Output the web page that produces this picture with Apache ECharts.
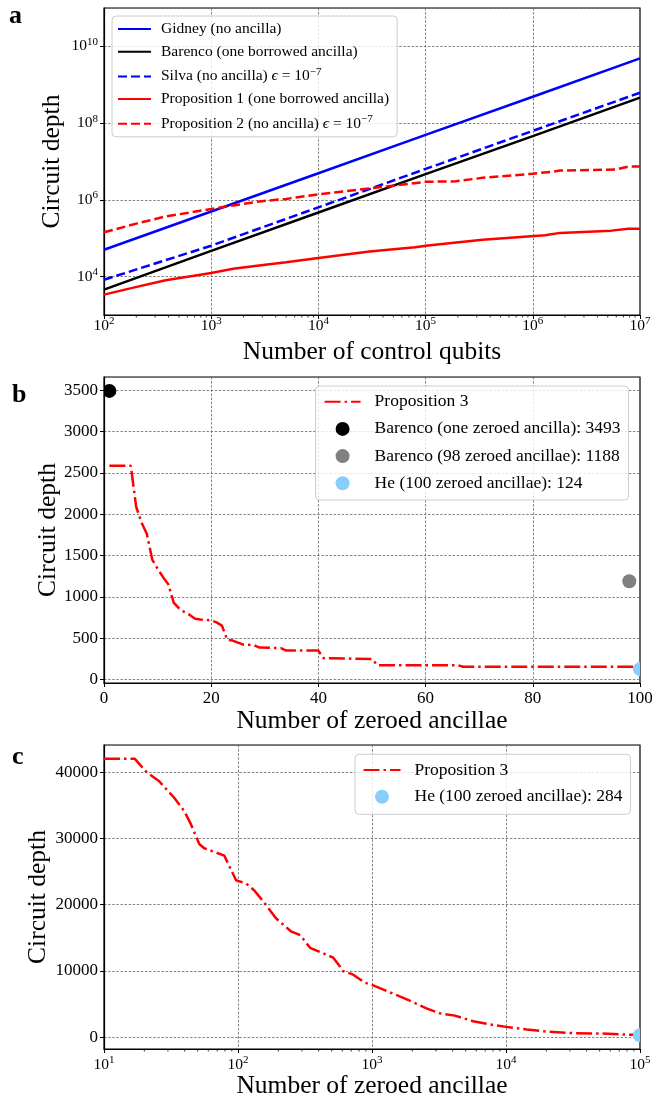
<!DOCTYPE html>
<html><head><meta charset="utf-8">
<script src="https://cdn.jsdelivr.net/npm/echarts@6/dist/echarts.min.js"></script>
<style>html,body{margin:0;padding:0;background:#fff}#c{width:663px;height:1100px}</style>
</head><body><div id="c"></div>
<script>
// ---------- Panel a data (log-log) ----------
const aDecades = [1e2, 1e3, 1e4, 1e5, 1e6, 1e7];
const gidneyY  = [5.0e4, 4.97e5, 4.95e6, 4.92e7, 4.88e8, 4.85e9];
const barencoY = [4.6e3, 4.7e4, 4.7e5, 4.7e6, 4.6e7, 4.6e8];
const silvaY   = [8.3e3, 6.4e4, 6.4e5, 6.4e6, 6.3e7, 6.2e8];
const prop1X = [1e2, 1.84e2, 3.76e2, 1e3, 1.6e3, 2.8e3, 5e3, 1e4, 3e4, 8e4, 1.05e5, 3.4e5, 1.3e6, 1.8e6, 5.4e6, 7.8e6, 1e7];
const prop1Y = [3.4e3, 5.1e3, 8.0e3, 1.25e4, 1.6e4, 1.94e4, 2.36e4, 3.07e4, 4.5e4, 5.8e4, 6.5e4, 9.2e4, 1.19e5, 1.38e5, 1.58e5, 1.78e5, 1.78e5];
const prop2X = [1e2, 2e2, 3.76e2, 1e3, 2.8e3, 5e3, 1e4, 3e4, 1e5, 1.9e5, 3.4e5, 1e6, 1.5e6, 1.8e6, 6e6, 7.8e6, 1e7];
const prop2Y = [1.43e5, 2.4e5, 3.7e5, 5.8e5, 9.1e5, 1.06e6, 1.4e6, 2.0e6, 2.95e6, 3.05e6, 3.75e6, 4.8e6, 5.4e6, 5.8e6, 6.2e6, 7.4e6, 7.4e6];
const aNames = ['Gidney (no ancilla)', 'Barenco (one borrowed ancilla)', 'Silva (no ancilla) eps', 'Proposition 1 (one borrowed ancilla)', 'Proposition 2 (no ancilla) eps'];

// ---------- Panel b data ----------
const bX = [1,5,6,7,8,9,10,11,12,13,14,15,16,17,18,19,20,21,22,23,24,25,26,28,29,33,34,40,41,50,51,66,67,100];
const bY = [2585,2585,2090,1900,1760,1450,1340,1240,1150,930,860,815,780,735,725,718,715,690,650,480,470,445,420,415,385,378,348,348,255,248,172,172,152,152];
const bPoints = [
  {name: 'Barenco (one zeroed ancilla): 3493', x: 1, y: 3493, color: '#000000'},
  {name: 'Barenco (98 zeroed ancillae): 1188', x: 98, y: 1188, color: '#808080'},
  {name: 'He (100 zeroed ancillae): 124', x: 100, y: 124, color: '#87cefa'}
];

// ---------- Panel c data ----------
const cX = [10, 17, 20.5, 25.8, 33.4, 39.7, 44.5, 51.4, 56, 79, 96.7, 115, 132, 162, 192, 248, 292, 345, 514, 573, 606, 719, 881, 1000, 1350, 1800, 2550, 3200, 4150, 5690, 7590, 10000, 14250, 19950, 31600, 50000, 89000, 100000];
const cY = [42000, 42000, 40110, 38620, 36130, 34130, 32140, 29150, 28510, 27400, 23670, 23170, 22170, 19930, 17940, 15970, 15370, 13480, 11990, 10720, 9970, 9460, 8220, 7880, 6770, 5740, 4340, 3590, 3240, 2390, 1900, 1540, 1140, 840, 600, 540, 340, 330];
const cPoint = {name: 'He (100 zeroed ancillae): 284', x: 1e5, y: 284, color: '#87cefa'};

// minor tick decades for log x axes
const aMinorDecades = [1e2, 1e3, 1e4, 1e5, 1e6];
const cMinorDecades = [1e1, 1e2, 1e3, 1e4];
const minorSubs = [2, 3, 4, 5, 6, 7, 8, 9];

const F = '"Liberation Serif", "Times New Roman", serif';
const GRIDC = '#666666';
const gridLine = {show: true, lineStyle: {color: GRIDC, width: 0.8, type: [2.5, 1.6]}};
const axLine = {show: true, onZero: false, lineStyle: {color: '#000', width: 1.2}};
const supRich = {
  b: {fontSize: 15.5, fontFamily: F, color: '#000', verticalAlign: 'bottom', lineHeight: 16},
  s: {fontSize: 11, fontFamily: F, color: '#000', verticalAlign: 'bottom', lineHeight: 11, padding: [0, 0, 7, 0]}
};
const supFmt = v => '{b|10}{s|' + Math.round(Math.log10(v)) + '}';
const plainFmt = v => String(v);
const nameStyle = {fontSize: 25.5, fontFamily: F, color: '#000'};
const plainLabel = {fontSize: 17, fontFamily: F, color: '#000', formatter: plainFmt};
const MARKER_R = 7;

function pairs(xs, ys) { return xs.map((x, i) => [x, ys[i]]); }
function minorData(decades, yRef) {
  const out = [];
  decades.forEach(d => minorSubs.forEach(k => out.push([k * d, yRef])));
  return out;
}
function minorTickSeries(xi, decades, yRef) {
  return {
    type: 'custom', xAxisIndex: xi, yAxisIndex: xi, silent: true, z: 3, clip: false,
    data: minorData(decades, yRef),
    renderItem: (params, api) => {
      const cs = params.coordSys;
      const x = api.coord([api.value(0), api.value(1)])[0];
      const yb = cs.y + cs.height;
      return {type: 'line', shape: {x1: x, y1: yb, x2: x, y2: yb + 2.5}, style: {stroke: '#000', lineWidth: 0.8}};
    }
  };
}
// point markers drawn as custom series so they are clipped by the plot frame like the reference
function pointSeries(p, gi) {
  return {
    name: p.name, type: 'custom', xAxisIndex: gi, yAxisIndex: gi, z: 3, clip: true, silent: true,
    itemStyle: {color: p.color},
    data: [[p.x, p.y]],
    renderItem: (params, api) => {
      const c = api.coord([api.value(0), api.value(1)]);
      return {type: 'circle', shape: {cx: c[0], cy: c[1], r: MARKER_R}, style: {fill: p.color}};
    }
  };
}

const chart = echarts.init(document.getElementById('c'), null, {renderer: 'canvas'});
const lineW = 2.5;
const dashA = [9, 4];
const dashDot = [16, 4, 2.5, 4];
const noSym = {opacity: 0, color: 'rgba(0,0,0,0)', borderWidth: 0};

const legendA = {
  'Gidney (no ancilla)': 'Gidney (no ancilla)',
  'Barenco (one borrowed ancilla)': 'Barenco (one borrowed ancilla)',
  'Silva (no ancilla) eps': '{n|Silva (no ancilla) }{i|ϵ}{n| = 10}{s|−7}',
  'Proposition 1 (one borrowed ancilla)': 'Proposition 1 (one borrowed ancilla)',
  'Proposition 2 (no ancilla) eps': '{n|Proposition 2 (no ancilla) }{i|ϵ}{n| = 10}{s|−7}'
};

const axisBase = {nameLocation: 'middle', nameTextStyle: nameStyle, nameMoveOverlap: false,
  axisLine: axLine, axisTick: {length: 4, lineStyle: {color: '#000'}}, splitLine: gridLine};

const option = {
  animation: false,
  backgroundColor: '#fff',
  textStyle: {fontFamily: F},
  grid: [
    {left: 104, top: 8, width: 536, height: 307, show: true, borderColor: '#000', borderWidth: 1.2},
    {left: 104, top: 377, width: 536, height: 306, show: true, borderColor: '#000', borderWidth: 1.2},
    {left: 104, top: 745, width: 536, height: 307, show: true, borderColor: '#000', borderWidth: 1.2}
  ],
  xAxis: [
    Object.assign({}, axisBase, {gridIndex: 0, type: 'log', logBase: 10, min: 1e2, max: 1e7,
     name: 'Number of control qubits', nameGap: 24,
     axisLabel: {formatter: supFmt, rich: supRich, margin: 3}}),
    Object.assign({}, axisBase, {gridIndex: 1, type: 'value', min: 0, max: 100, interval: 20,
     name: 'Number of zeroed ancillae', nameGap: 25,
     axisLabel: Object.assign({margin: 7}, plainLabel)}),
    Object.assign({}, axisBase, {gridIndex: 2, type: 'log', logBase: 10, min: 10, max: 1e5,
     name: 'Number of zeroed ancillae', nameGap: 24,
     axisLabel: {formatter: supFmt, rich: supRich, margin: 8}})
  ],
  yAxis: [
    Object.assign({}, axisBase, {gridIndex: 0, type: 'log', logBase: 100, min: 1e3, max: 1e11,
     name: 'Circuit depth', nameGap: 39,
     axisLabel: {formatter: supFmt, rich: supRich, margin: 6, showMinLabel: false, showMaxLabel: false}}),
    Object.assign({}, axisBase, {gridIndex: 1, type: 'value', min: -44, max: 3661, splitNumber: 7,
     name: 'Circuit depth', nameGap: 43,
     axisLabel: Object.assign({margin: 6, showMinLabel: false, showMaxLabel: false}, plainLabel)}),
    Object.assign({}, axisBase, {gridIndex: 2, type: 'value', min: -1800, max: 44090, splitNumber: 5,
     name: 'Circuit depth', nameGap: 53,
     axisLabel: Object.assign({margin: 6, showMinLabel: false, showMaxLabel: false}, plainLabel)})
  ],
  legend: [
    {data: aNames.map(n => ({name: n, itemStyle: noSym})), orient: 'vertical', left: 112, top: 16, selectedMode: false,
     itemWidth: 33, itemHeight: 14, itemGap: 6.7, padding: [5, 8, 5, 5],
     backgroundColor: 'rgba(255,255,255,0.8)', borderColor: '#cccccc', borderWidth: 1, borderRadius: 4,
     formatter: n => legendA[n] || n,
     textStyle: {fontSize: 15.5, fontFamily: F, color: '#000', lineHeight: 16, padding: [0, 0, 0, 5],
       rich: {
         n: {fontSize: 15.5, fontFamily: F, color: '#000', verticalAlign: 'bottom', lineHeight: 16},
         i: {fontSize: 15.5, fontFamily: F, fontStyle: 'italic', color: '#000', verticalAlign: 'bottom', lineHeight: 16},
         s: {fontSize: 11, fontFamily: F, color: '#000', verticalAlign: 'bottom', lineHeight: 11, padding: [0, 0, 7, 0]}
       }}},
    {data: [{name: 'Proposition 3', itemStyle: noSym}].concat(bPoints.map(p => ({name: p.name, icon: 'circle', itemStyle: {color: p.color}}))),
     orient: 'vertical', left: 315.6, top: 386, selectedMode: false,
     itemWidth: 36, itemHeight: 14, itemGap: 9.2, padding: [6.7, 8, 7.7, 8],
     backgroundColor: 'rgba(255,255,255,0.8)', borderColor: '#cccccc', borderWidth: 1, borderRadius: 4,
     textStyle: {fontSize: 17.5, fontFamily: F, color: '#000', lineHeight: 18, padding: [0, 0, 0, 9]}},
    {data: [{name: 'Proposition 3 ', itemStyle: noSym}, {name: cPoint.name, icon: 'circle', itemStyle: {color: cPoint.color}}],
     orient: 'vertical', left: 355, top: 754.3, selectedMode: false,
     itemWidth: 37, itemHeight: 14, itemGap: 8.7, padding: [6.7, 8, 8.6, 7.5],
     backgroundColor: 'rgba(255,255,255,0.8)', borderColor: '#cccccc', borderWidth: 1, borderRadius: 4,
     formatter: n => n.trim(),
     textStyle: {fontSize: 17.5, fontFamily: F, color: '#000', lineHeight: 18, padding: [0, 0, 0, 9]}}
  ],
  graphic: [
    {type: 'text', left: 9, top: 3, style: {text: 'a', font: 'bold 26px "Liberation Serif"', fill: '#000'}},
    {type: 'text', left: 12, top: 382, style: {text: 'b', font: 'bold 26px "Liberation Serif"', fill: '#000'}},
    {type: 'text', left: 12, top: 744, style: {text: 'c', font: 'bold 26px "Liberation Serif"', fill: '#000'}}
  ],
  series: [
    {name: aNames[0], type: 'line', xAxisIndex: 0, yAxisIndex: 0, symbol: 'none', z: 2,
     lineStyle: {color: '#0000ff', width: lineW}, itemStyle: {color: '#0000ff'}, data: pairs(aDecades, gidneyY)},
    {name: aNames[1], type: 'line', xAxisIndex: 0, yAxisIndex: 0, symbol: 'none', z: 2,
     lineStyle: {color: '#000000', width: lineW}, itemStyle: {color: '#000000'}, data: pairs(aDecades, barencoY)},
    {name: aNames[2], type: 'line', xAxisIndex: 0, yAxisIndex: 0, symbol: 'none', z: 2,
     lineStyle: {color: '#0000ff', width: lineW, type: dashA}, itemStyle: {color: '#0000ff'}, data: pairs(aDecades, silvaY)},
    {name: aNames[3], type: 'line', xAxisIndex: 0, yAxisIndex: 0, symbol: 'none', z: 2,
     lineStyle: {color: '#ff0000', width: lineW}, itemStyle: {color: '#ff0000'}, data: pairs(prop1X, prop1Y)},
    {name: aNames[4], type: 'line', xAxisIndex: 0, yAxisIndex: 0, symbol: 'none', z: 2,
     lineStyle: {color: '#ff0000', width: lineW, type: dashA}, itemStyle: {color: '#ff0000'}, data: pairs(prop2X, prop2Y)},
    minorTickSeries(0, aMinorDecades, 1e4),

    {name: 'Proposition 3', type: 'line', xAxisIndex: 1, yAxisIndex: 1, symbol: 'none', z: 2,
     lineStyle: {color: '#ff0000', width: lineW, type: dashDot}, itemStyle: {color: '#ff0000'}, data: pairs(bX, bY)},
    ...bPoints.map(p => pointSeries(p, 1)),

    {name: 'Proposition 3 ', type: 'line', xAxisIndex: 2, yAxisIndex: 2, symbol: 'none', z: 2,
     lineStyle: {color: '#ff0000', width: lineW, type: dashDot}, itemStyle: {color: '#ff0000'}, data: pairs(cX, cY)},
    pointSeries(cPoint, 2),
    minorTickSeries(2, cMinorDecades, 0)
  ]
};
chart.setOption(option);
</script>
</body></html>
